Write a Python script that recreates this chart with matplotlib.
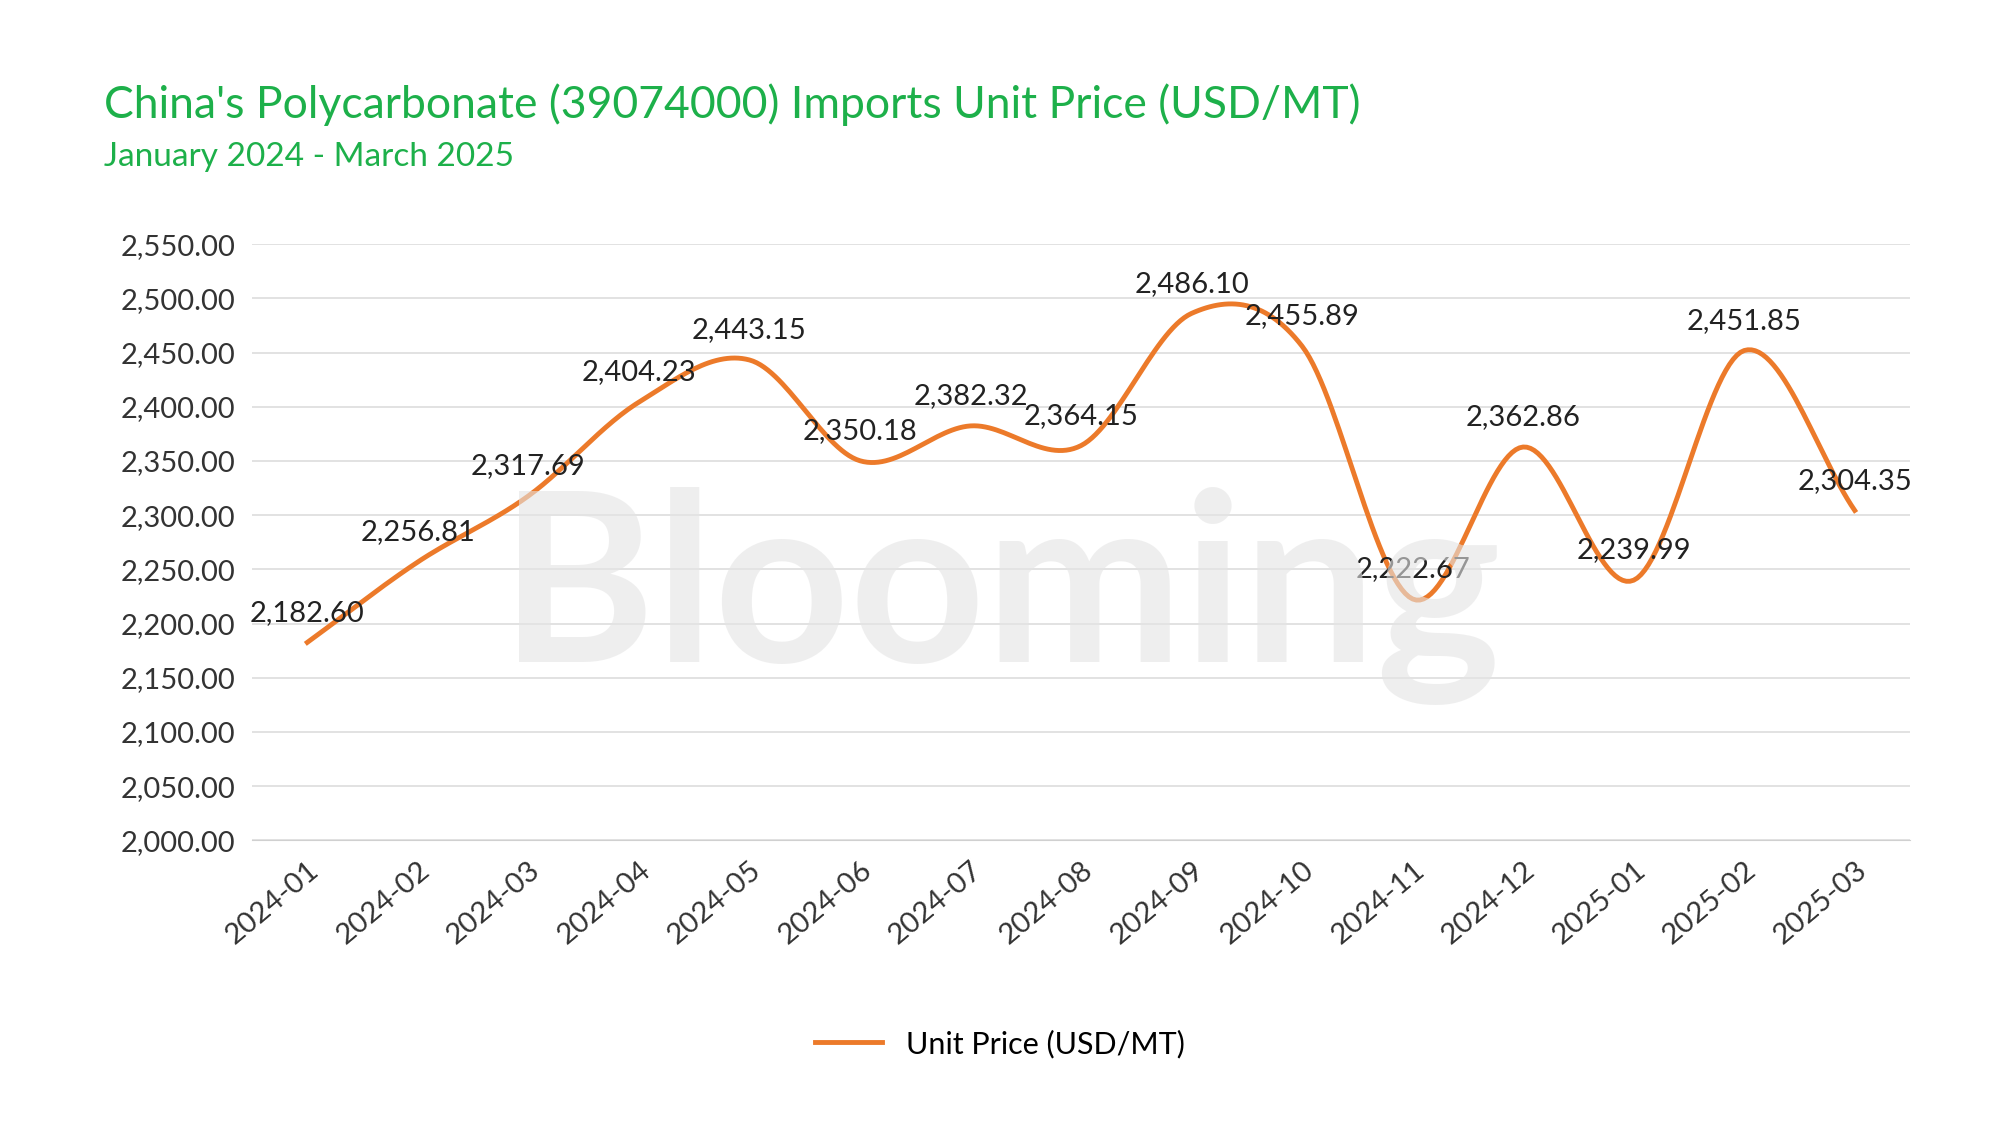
import numpy as np
import matplotlib.pyplot as plt

months = ["2024-01", "2024-02", "2024-03", "2024-04", "2024-05", "2024-06", "2024-07",
          "2024-08", "2024-09", "2024-10", "2024-11", "2024-12", "2025-01", "2025-02", "2025-03"]
prices = [2182.60, 2256.81, 2317.69, 2404.23, 2443.15, 2350.18, 2382.32,
          2364.15, 2486.10, 2455.89, 2222.67, 2362.86, 2239.99, 2451.85, 2304.35]
yticks = np.arange(2000, 2551, 50)

GREEN = "#1db04a"
ORANGE = "#ec7a2a"
plt.rcParams["font.family"] = "Lato"


def catmull_rom(x, y, n=30):
    # smooth curve through the points, like the spreadsheet "smoothed line"
    x = np.asarray(x, float); y = np.asarray(y, float)
    px = np.concatenate([[2 * x[0] - x[1]], x, [2 * x[-1] - x[-2]]])
    py = np.concatenate([[2 * y[0] - y[1]], y, [2 * y[-1] - y[-2]]])
    xs, ys = [], []
    t = np.linspace(0, 1, n, endpoint=False)
    for i in range(1, len(px) - 2):
        for p, out in ((px, xs), (py, ys)):
            p0, p1, p2, p3 = p[i - 1], p[i], p[i + 1], p[i + 2]
            out.extend(0.5 * (2 * p1 + (-p0 + p2) * t + (2 * p0 - 5 * p1 + 4 * p2 - p3) * t ** 2
                              + (-p0 + 3 * p1 - 3 * p2 + p3) * t ** 3))
    xs.append(x[-1]); ys.append(y[-1])
    return np.array(xs), np.array(ys)


fig = plt.figure(figsize=(20, 11.25), dpi=100)
ax = fig.add_axes([0.126, 0.253, 0.829, 0.53])

x = np.arange(len(months))
sx, sy = catmull_rom(x, prices)
ax.plot(sx, sy, color=ORANGE, lw=3.5, label="Unit Price (USD/MT)", zorder=3)

for xi, v in zip(x, prices):
    ax.annotate(f"{v:,.2f}", (xi, v), xytext=(0, 12), textcoords="offset points",
                ha="center", va="bottom", fontsize=21, color="#222222", zorder=4)

ax.set_xlim(-0.5, len(months) - 0.5)
ax.set_ylim(2000, 2550)
ax.set_yticks(yticks)
ax.set_yticklabels([f"{v:,.2f}" for v in yticks], fontsize=21, color="#333333")
ax.set_xticks(x)
ax.set_xticklabels(months, rotation=40, ha="right", rotation_mode="anchor", fontsize=21, color="#333333")
ax.grid(axis="y", color="#dddddd", lw=1.2)
ax.tick_params(length=0, pad=12)
for s in ax.spines.values():
    s.set_visible(False)
ax.spines["bottom"].set_visible(True)
ax.spines["bottom"].set_color("#d0d0d0")

fig.text(0.5, 0.47, "Blooming", ha="center", va="center", fontsize=170, fontweight="bold",
         color="#e4e4e4", alpha=0.6, zorder=0)

fig.text(0.052, 0.895, "China's Polycarbonate (39074000) Imports Unit Price (USD/MT)",
         fontsize=32, color=GREEN)
fig.text(0.052, 0.852, "January 2024 - March 2025", fontsize=24, color=GREEN)

fig.legend(loc="lower center", bbox_to_anchor=(0.5, 0.035), frameon=False, fontsize=22,
           handlelength=2.2)
fig.savefig("out.png", dpi=100, facecolor="white")
